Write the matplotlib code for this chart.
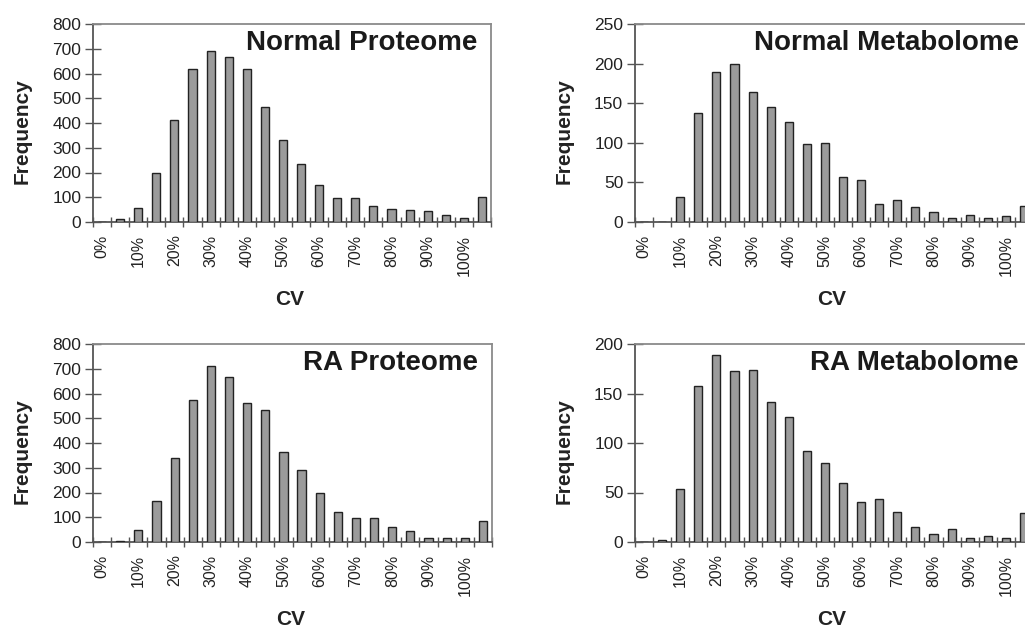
import matplotlib.pyplot as plt
import numpy as np

plt.rcParams['font.family'] = ['Liberation Sans', 'DejaVu Sans']

# CV bins: 0%, 5%, ... 100%, >100%
bins = ['0%', '5%', '10%', '15%', '20%', '25%', '30%', '35%', '40%', '45%', '50%',
        '55%', '60%', '65%', '70%', '75%', '80%', '85%', '90%', '95%', '100%', '>100%']

normal_proteome = [0, 11, 55, 200, 412, 620, 692, 667, 620, 463, 330,
                   236, 151, 96, 97, 66, 54, 48, 43, 30, 17, 103]
normal_metabolome = [0, 0, 32, 138, 189, 200, 164, 145, 126, 98, 100,
                     57, 53, 23, 28, 19, 13, 5, 9, 5, 7, 20]
ra_proteome = [0, 6, 50, 164, 340, 575, 710, 667, 563, 534, 364,
               292, 200, 121, 97, 97, 60, 43, 17, 17, 17, 86]
ra_metabolome = [0, 2, 54, 158, 189, 173, 174, 141, 126, 92, 80,
                 60, 40, 43, 30, 15, 8, 13, 4, 6, 4, 29]

panels = [
    ('Normal Proteome', normal_proteome, np.arange(0, 801, 100), 800),
    ('Normal Metabolome', normal_metabolome, np.arange(0, 251, 50), 250),
    ('RA Proteome', ra_proteome, np.arange(0, 801, 100), 800),
    ('RA Metabolome', ra_metabolome, np.arange(0, 201, 50), 200),
]

W, H = 1025, 631
fig = plt.figure(figsize=(W / 100, H / 100), dpi=100)

# axes boxes in pixels: left, top, right, bottom
boxes = [(93, 24, 491, 222), (635, 24, 1033, 222),
         (93, 344, 492, 542), (635, 344, 1033, 542)]

x = np.arange(len(bins))
for (title, vals, yt, ymax), (l, t, r, b) in zip(panels, boxes):
    ax = fig.add_axes([l / W, 1 - b / H, (r - l) / W, (b - t) / H])
    ax.bar(x, vals, width=0.45, color='#9b9b9b', edgecolor='#222222', linewidth=1.0, zorder=3)
    ax.set_xlim(-0.5, len(bins) - 0.5)
    ax.set_ylim(0, ymax)

    ax.set_yticks(yt)
    ax.set_yticklabels([str(v) for v in yt])
    ax.tick_params(axis='y', direction='inout', length=11, width=1, color='#555555',
                   labelsize=12.5, pad=3, labelcolor='#222222')

    # labels every other bin, ticks between bins
    ax.set_xticks(x[0:21:2])
    ax.set_xticklabels(bins[0:21:2], rotation=90)
    ax.tick_params(axis='x', which='major', length=0, labelsize=11.5, pad=9, labelcolor='#222222')
    ax.set_xticks(np.arange(-0.5, len(bins)), minor=True)
    ax.tick_params(axis='x', which='minor', direction='inout', length=7, width=1, color='#555555')

    for s in ['left', 'bottom']:
        ax.spines[s].set_color('#555555')
        ax.spines[s].set_linewidth(1.3)
    for s in ['top', 'right']:
        ax.spines[s].set_color('#8a8a8a')
        ax.spines[s].set_linewidth(1.3)

    ax.set_ylabel('Frequency', fontsize=15, fontweight='bold', color='#222222')
    ax.yaxis.set_label_coords(-0.155, 0.46)
    ax.set_xlabel('CV', fontsize=15, fontweight='bold', color='#222222')
    ax.xaxis.set_label_coords(0.495, -0.343)

    ax.annotate(title, xy=(1, 1), xycoords='axes fraction', xytext=(-10, -13.5),
                textcoords='offset points', ha='right', va='center',
                fontsize=20, fontweight='bold', color='#1a1a1a')

fig.savefig('out.png', dpi=100)
